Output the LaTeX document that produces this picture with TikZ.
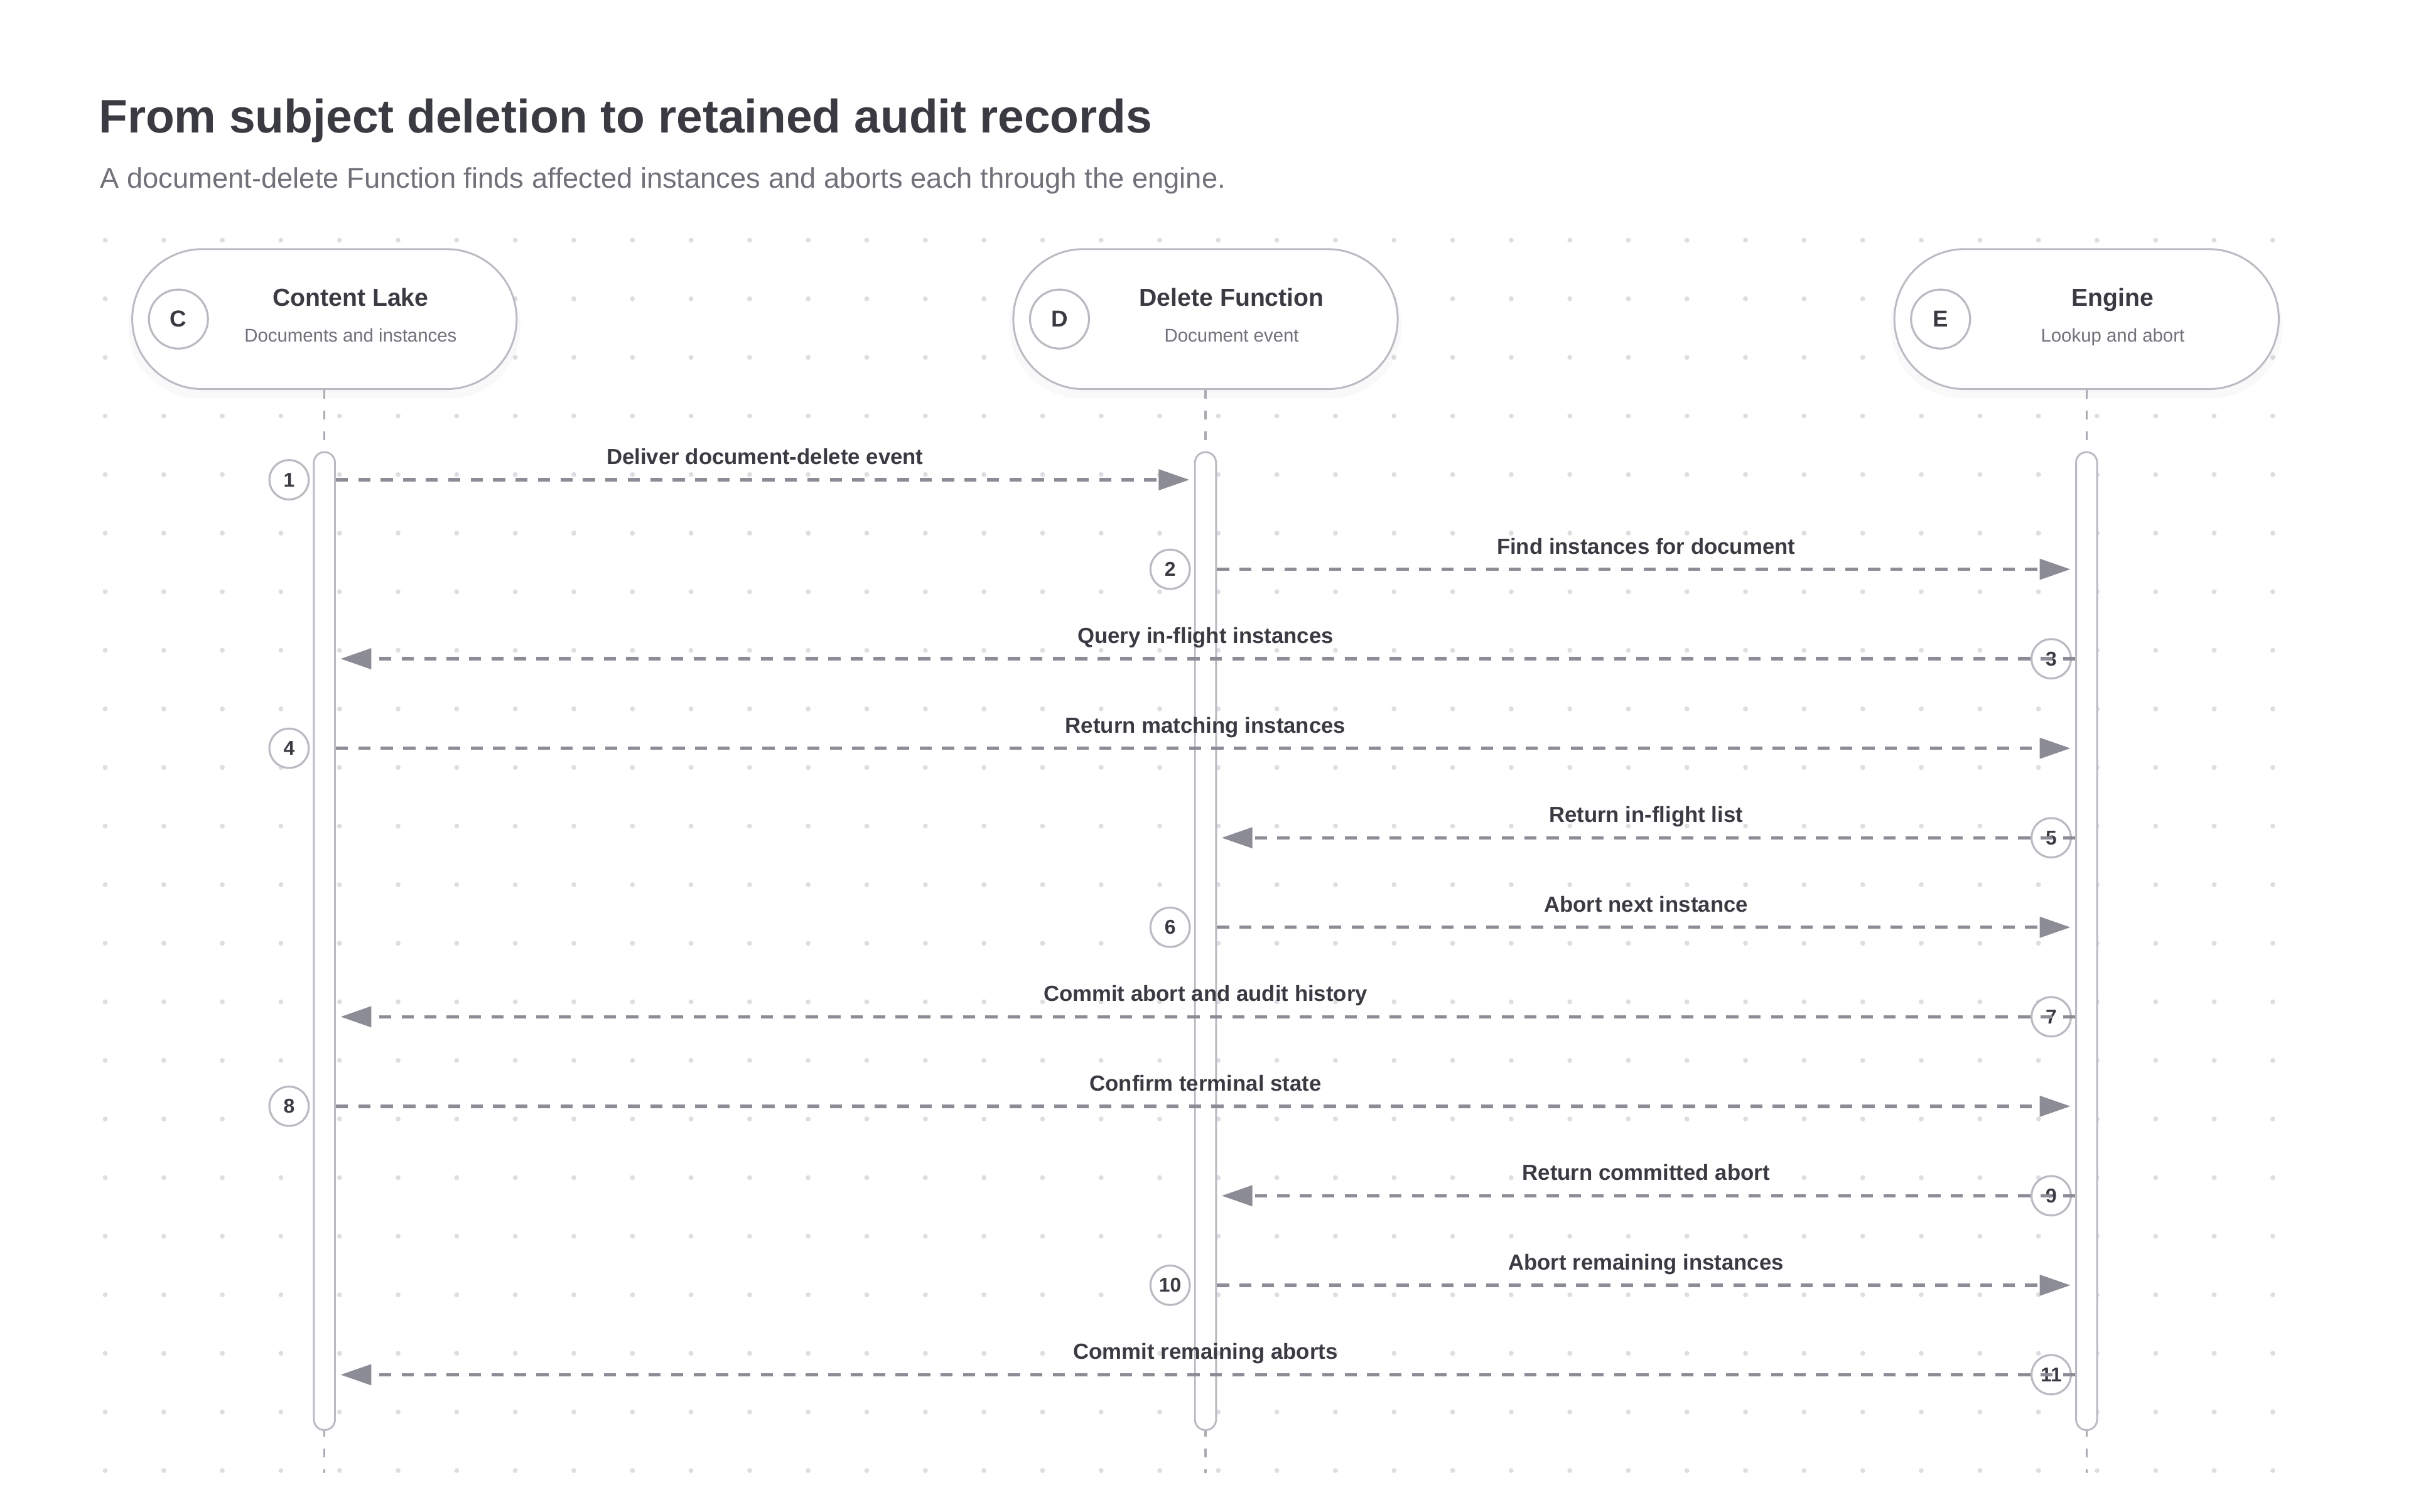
\documentclass[tikz,border=0pt]{standalone}
\usepackage{fontspec}
\setmainfont{Liberation Sans}
\usetikzlibrary{arrows.meta, positioning, calc, shadows}
\definecolor{inkc}{RGB}{58,58,66}
\definecolor{mutedc}{RGB}{113,113,122}
\definecolor{wirec}{RGB}{140,140,150}
\definecolor{edgec}{RGB}{186,186,194}
\definecolor{lifec}{RGB}{170,170,178}
\definecolor{dotc}{RGB}{221,221,226}

\begin{document}
\begin{tikzpicture}[
  x=1pt, y=-1pt,
  every node/.style={inner sep=0pt},
  titletext/.style={font=\fontsize{30.6}{36}\selectfont\bfseries, text=inkc, anchor=base west},
  subtext/.style={font=\fontsize{18.5}{22}\selectfont, text=mutedc, anchor=base west},
  pill/.style={draw=edgec, line width=1.2pt, fill=white, rounded corners=45.5pt, minimum width=250pt, minimum height=91pt,
    drop shadow={opacity=0.05, shadow xshift=0pt, shadow yshift=-5pt, shadow scale=1.02}},
  badge/.style={circle, draw=edgec, line width=1.3pt, fill=white, minimum size=38.4pt, font=\fontsize{15}{18}\selectfont\bfseries, text=inkc},
  actorname/.style={font=\fontsize{16}{19}\selectfont\bfseries, text=inkc, anchor=base},
  actorsub/.style={font=\fontsize{12}{14}\selectfont, text=mutedc, anchor=base},
  lifeline/.style={draw=lifec, line width=1.4pt, dash pattern=on 5.5pt off 8pt},
  actbar/.style={draw=edgec, line width=1.2pt, fill=white, rounded corners=6.85pt, minimum width=13.7pt, minimum height=636pt},
  stepnum/.style={circle, draw=edgec, line width=1.3pt, fill=white, minimum size=25.6pt, font=\fontsize{13}{15}\selectfont\bfseries, text=inkc},
  msg/.style={draw=wirec, line width=2.2pt, dash pattern=on 7.9pt off 6.7pt, -{Triangle[length=20pt, width=13.2pt]}, shorten >=3pt},
  msglabel/.style={midway, anchor=base, yshift=10pt, font=\fontsize{14.2}{17}\selectfont\bfseries, text=inkc},
]
\useasboundingbox (0,0) rectangle (1568,983);

% Dot grid
\foreach \i in {0,...,37} {
  \foreach \j in {0,...,21} {
    \fill[dotc] ({68.4+38.1*\i},{156.2+38.1*\j}) circle (1.6pt);
  }
}

% Heading
\node[titletext] (title) at (64,86.4) {From subject deletion to retained audit records};
\node[subtext] (subtitle) at (65,122.2) {A document-delete Function finds affected instances and aborts each through the engine.};

% Participants
\node[pill] (lake) at (211,207.5) {};
\node[pill] (fn) at (784,207.5) {};
\node[pill] (eng) at (1357,207.5) {};

\node[badge, right=10.8pt of lake.west] (lakeB) {C};
\node[badge, right=10.8pt of fn.west] (fnB) {D};
\node[badge, right=10.8pt of eng.west] (engB) {E};

\node[actorname] (lakeName) at ($(lake.center)+(17,-8.5)$) {Content Lake};
\node[actorsub] (lakeSub) at ($(lake.center)+(17,14.9)$) {Documents and instances};
\node[actorname] (fnName) at ($(fn.center)+(17,-8.5)$) {Delete Function};
\node[actorsub] (fnSub) at ($(fn.center)+(17,14.9)$) {Document event};
\node[actorname] (engName) at ($(eng.center)+(17,-8.5)$) {Engine};
\node[actorsub] (engSub) at ($(eng.center)+(17,14.9)$) {Lookup and abort};

% Lifelines
\coordinate (lakeEnd) at (211,958);
\coordinate (fnEnd) at (784,958);
\coordinate (engEnd) at (1357,958);
\draw[lifeline] (lake.south) -- (lakeEnd);
\draw[lifeline] (fn.south) -- (fnEnd);
\draw[lifeline] (eng.south) -- (engEnd);

% Activation bars
\node[actbar] (lakeBar) at (211,612) {};
\node[actbar] (fnBar) at (784,612) {};
\node[actbar] (engBar) at (1357,612) {};

% Step numbers
\node[stepnum] (s1) at (188,312) {1};
\node[stepnum] (s2) at (761,370.2) {2};
\node[stepnum] (s3) at (1334,428.4) {3};
\node[stepnum] (s4) at (188,486.6) {4};
\node[stepnum] (s5) at (1334,544.8) {5};
\node[stepnum] (s6) at (761,603) {6};
\node[stepnum] (s7) at (1334,661.2) {7};
\node[stepnum] (s8) at (188,719.4) {8};
\node[stepnum] (s9) at (1334,777.6) {9};
\node[stepnum] (s10) at (761,835.8) {10};
\node[stepnum] (s11) at (1334,894) {11};

% Messages
\draw[msg] (lakeBar.east |- s1) -- node[msglabel] {Deliver document-delete event} (fnBar.west |- s1);
\draw[msg] (fnBar.east |- s2) -- node[msglabel] {Find instances for document} (engBar.west |- s2);
\draw[msg] (engBar.west |- s3) -- node[msglabel] {Query in-flight instances} (lakeBar.east |- s3);
\draw[msg] (lakeBar.east |- s4) -- node[msglabel] {Return matching instances} (engBar.west |- s4);
\draw[msg] (engBar.west |- s5) -- node[msglabel] {Return in-flight list} (fnBar.east |- s5);
\draw[msg] (fnBar.east |- s6) -- node[msglabel] {Abort next instance} (engBar.west |- s6);
\draw[msg] (engBar.west |- s7) -- node[msglabel] {Commit abort and audit history} (lakeBar.east |- s7);
\draw[msg] (lakeBar.east |- s8) -- node[msglabel] {Confirm terminal state} (engBar.west |- s8);
\draw[msg] (engBar.west |- s9) -- node[msglabel] {Return committed abort} (fnBar.east |- s9);
\draw[msg] (fnBar.east |- s10) -- node[msglabel] {Abort remaining instances} (engBar.west |- s10);
\draw[msg] (engBar.west |- s11) -- node[msglabel] {Commit remaining aborts} (lakeBar.east |- s11);

\end{tikzpicture}
\end{document}
